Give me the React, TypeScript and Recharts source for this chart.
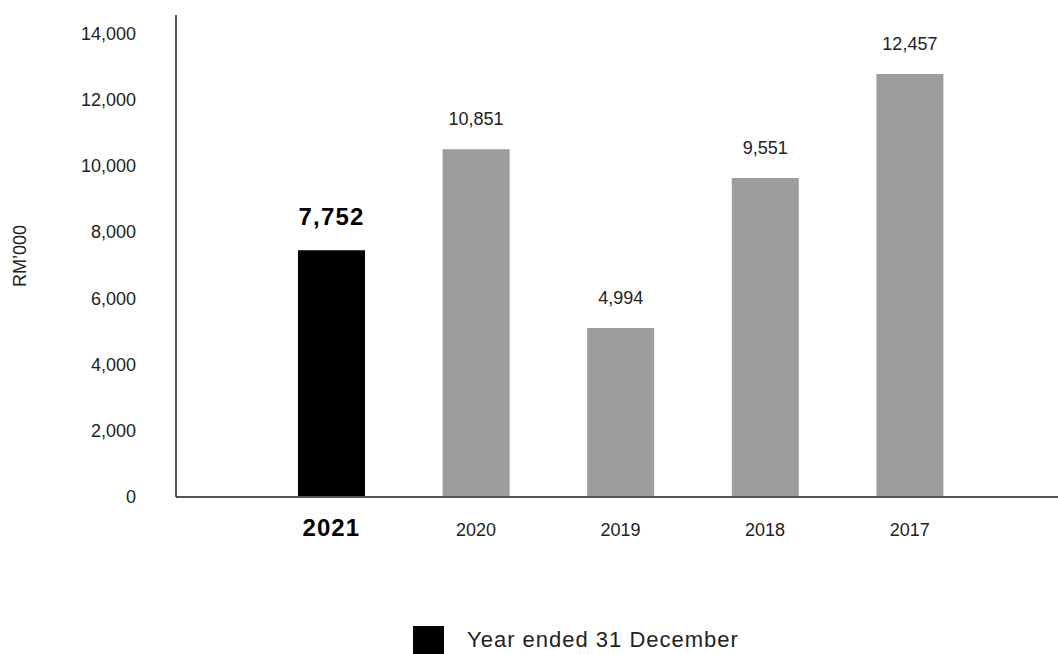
import { Bar, BarChart, Cell, LabelList, Legend, XAxis, YAxis } from "recharts";

// bar heights as drawn; the printed labels differ slightly from the bar heights in the source
const years = ["2021", "2020", "2019", "2018", "2017"];
const barHeights = [7450, 10500, 5100, 9630, 12770];
const valueLabels = ["7,752", "10,851", "4,994", "9,551", "12,457"];
const yTicks = [0, 2000, 4000, 6000, 8000, 10000, 12000, 14000];
const legendLabel = "Year ended 31 December";

const FONT = '"Liberation Sans", Arial, Helvetica, sans-serif';
const GREY = "#9d9d9c";

const data = years.map((year, i) => ({ year, value: barHeights[i], label: valueLabels[i] }));

const YearTick = (props: any) => {
  const { x, y, payload } = props;
  const current = payload.index === 0;
  return (
    <text
      x={x}
      y={y + (current ? 22 : 25)}
      textAnchor="middle"
      dominantBaseline="central"
      fontFamily={FONT}
      fontSize={current ? 24 : 18}
      fontWeight={current ? 700 : 400}
      letterSpacing={current ? 1 : 0}
      fill={current ? "#000" : "#222"}
    >
      {payload.value}
    </text>
  );
};

const ValueLabel = (props: any) => {
  const { x, y, width, index } = props;
  const current = index === 0;
  return (
    <text
      x={x + width / 2}
      y={y - (current ? 34 : 30)}
      textAnchor="middle"
      dominantBaseline="central"
      fontFamily={FONT}
      fontSize={current ? 24 : 18}
      fontWeight={current ? 700 : 400}
      letterSpacing={current ? 1.2 : 0}
      fill={current ? "#000" : "#222"}
    >
      {valueLabels[index]}
    </text>
  );
};

const LegendBox = () => (
  <div style={{ display: "flex", alignItems: "center", marginLeft: 413, height: 28 }}>
    <div style={{ width: 31, height: 28, background: "#000" }} />
    <span style={{ marginLeft: 23, fontFamily: FONT, fontSize: 22, letterSpacing: 1, color: "#222" }}>
      {legendLabel}
    </span>
  </div>
);

export default function App() {
  return (
    <div style={{ position: "absolute", top: 0, left: 0, width: 1058, height: 654, background: "#fff" }}>
      <BarChart width={1058} height={654} data={data} margin={{ top: 15, right: 0, bottom: 0, left: 0 }}>
        <XAxis
          dataKey="year"
          height={129}
          padding={{ left: 83, right: 76 }}
          tickLine={false}
          axisLine={{ stroke: "#555", strokeWidth: 2 }}
          tick={<YearTick />}
          interval={0}
        />
        <YAxis
          width={176}
          domain={[0, 14550]}
          ticks={yTicks}
          tickLine={false}
          tickSize={0}
          tickMargin={40}
          axisLine={{ stroke: "#222", strokeWidth: 1.5 }}
          tickFormatter={(v: number) => v.toLocaleString("en-US")}
          tick={{ fontFamily: FONT, fontSize: 18, fill: "#222" }}
          label={{
            value: "RM\u2019000",
            angle: -90,
            position: "insideLeft",
            offset: 20,
            style: { fontFamily: FONT, fontSize: 18, fill: "#222", textAnchor: "middle" },
          }}
        />
        <Legend verticalAlign="bottom" height={28} content={<LegendBox />} />
        <Bar dataKey="value" barSize={67} isAnimationActive={false}>
          {data.map((d, i) => (
            <Cell key={d.year} fill={i === 0 ? "#000" : GREY} />
          ))}
          <LabelList dataKey="label" content={<ValueLabel />} />
        </Bar>
      </BarChart>
    </div>
  );
}
